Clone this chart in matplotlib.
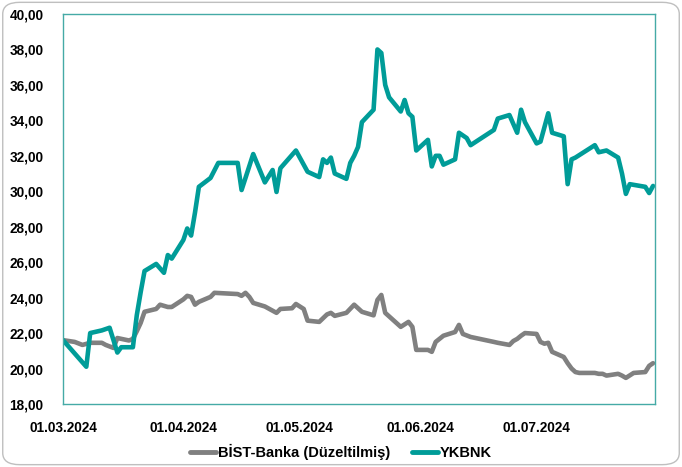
import matplotlib
matplotlib.use("Agg")
import matplotlib.pyplot as plt
import matplotlib.dates as mdates
from matplotlib.patches import FancyBboxPatch
from matplotlib.ticker import FuncFormatter
import pandas as pd

# ---------------- data ----------------
ykb_dates = ["2024-03-01","2024-03-07","2024-03-08","2024-03-11","2024-03-13","2024-03-15","2024-03-16",
             "2024-03-19","2024-03-20","2024-03-21","2024-03-22","2024-03-25","2024-03-27","2024-03-28",
             "2024-03-29","2024-04-01","2024-04-02","2024-04-03","2024-04-04","2024-04-05","2024-04-08",
             "2024-04-10","2024-04-15","2024-04-16","2024-04-19","2024-04-22","2024-04-24","2024-04-25",
             "2024-04-26","2024-04-30","2024-05-03","2024-05-06","2024-05-07","2024-05-08","2024-05-09",
             "2024-05-10","2024-05-13","2024-05-14","2024-05-15","2024-05-16","2024-05-17","2024-05-20",
             "2024-05-21","2024-05-22","2024-05-23","2024-05-24","2024-05-27","2024-05-28","2024-05-29",
             "2024-05-30","2024-05-31","2024-06-03","2024-06-04","2024-06-05","2024-06-06","2024-06-07",
             "2024-06-10","2024-06-11","2024-06-12","2024-06-13","2024-06-14","2024-06-20","2024-06-21",
             "2024-06-24","2024-06-26","2024-06-27","2024-06-28","2024-07-01","2024-07-02","2024-07-04",
             "2024-07-05","2024-07-08","2024-07-09","2024-07-10","2024-07-11","2024-07-16","2024-07-17",
             "2024-07-19","2024-07-22","2024-07-23","2024-07-24","2024-07-25","2024-07-29","2024-07-30",
             "2024-07-31"]
ykb_values = [21.60, 20.10, 22.00, 22.15, 22.30, 20.90, 21.20,
              21.20, 23.00, 24.30, 25.50, 25.90, 25.40, 26.40,
              26.20, 27.25, 27.90, 27.50, 28.80, 30.25, 30.75,
              31.60, 31.60, 30.07, 32.10, 30.50, 31.20, 29.96,
              31.30, 32.30, 31.10, 30.80, 31.80, 31.60, 31.90,
              31.00, 30.70, 31.60, 32.00, 32.50, 33.90, 34.60,
              38.00, 37.80, 36.00, 35.30, 34.50, 35.15, 34.40,
              34.20, 32.30, 32.90, 31.40, 32.00, 32.00, 31.50,
              31.80, 33.30, 33.15, 33.00, 32.60, 33.46, 34.10,
              34.30, 33.30, 34.60, 33.90, 32.70, 32.80, 34.40,
              33.30, 33.10, 30.40, 31.80, 31.90, 32.60, 32.20,
              32.30, 31.90, 31.00, 29.85, 30.40, 30.25, 29.90,
              30.30]

bist_dates = ["2024-03-01","2024-03-04","2024-03-06","2024-03-08","2024-03-11","2024-03-12","2024-03-14",
              "2024-03-15","2024-03-18","2024-03-19","2024-03-20","2024-03-21","2024-03-22","2024-03-25",
              "2024-03-26","2024-03-28","2024-03-29","2024-04-01","2024-04-02","2024-04-03","2024-04-04",
              "2024-04-05","2024-04-08","2024-04-09","2024-04-15","2024-04-16","2024-04-17","2024-04-18",
              "2024-04-19","2024-04-22","2024-04-25","2024-04-26","2024-04-29","2024-04-30","2024-05-02",
              "2024-05-03","2024-05-06","2024-05-08","2024-05-09","2024-05-10","2024-05-13","2024-05-15",
              "2024-05-16","2024-05-17","2024-05-20","2024-05-21","2024-05-22","2024-05-23","2024-05-27",
              "2024-05-29","2024-05-30","2024-05-31","2024-06-03","2024-06-04","2024-06-05","2024-06-07",
              "2024-06-10","2024-06-11","2024-06-12","2024-06-14","2024-06-20","2024-06-21","2024-06-24",
              "2024-06-25","2024-06-26","2024-06-27","2024-06-28","2024-07-01","2024-07-02","2024-07-03",
              "2024-07-04","2024-07-05","2024-07-08","2024-07-09","2024-07-10","2024-07-11","2024-07-12",
              "2024-07-16","2024-07-17","2024-07-18","2024-07-19","2024-07-22","2024-07-23","2024-07-24",
              "2024-07-26","2024-07-29","2024-07-30","2024-07-31"]
bist_values = [21.60, 21.50, 21.33, 21.45, 21.45, 21.33, 21.16,
               21.72, 21.58, 21.67, 22.10, 22.57, 23.20, 23.36,
               23.60, 23.47, 23.47, 23.90, 24.10, 24.04, 23.60,
               23.76, 24.04, 24.27, 24.20, 24.10, 24.27, 24.04,
               23.70, 23.50, 23.14, 23.36, 23.40, 23.64, 23.36,
               22.70, 22.63, 23.05, 23.14, 22.97, 23.14, 23.60,
               23.40, 23.20, 23.00, 23.87, 24.15, 23.14, 22.35,
               22.63, 22.35, 21.05, 21.05, 20.94, 21.50, 21.85,
               22.06, 22.46, 21.95, 21.78, 21.50, 21.45, 21.33,
               21.55, 21.67, 21.85, 22.00, 21.95, 21.50, 21.40,
               21.45, 20.94, 20.65, 20.30, 20.00, 19.80, 19.75,
               19.75, 19.70, 19.70, 19.60, 19.70, 19.60, 19.47,
               19.75, 19.80, 20.15, 20.30]

series_names = ["BİST-Banka (Düzeltilmiş)", "YKBNK"]
x_tick_labels = ["01.03.2024", "01.04.2024", "01.05.2024", "01.06.2024", "01.07.2024"]
y_ticks = [18, 20, 22, 24, 26, 28, 30, 32, 34, 36, 38, 40]

# ---------------- style ----------------
plt.rcParams['font.family'] = ['Liberation Sans', 'DejaVu Sans']
TEAL = '#009C98'
GREY = '#808080'
FRAME = '#45AAA6'

fig = plt.figure(figsize=(6.82, 4.67), dpi=100)
border = FancyBboxPatch((0.004, 0.005), 0.992, 0.99, boxstyle="round,pad=0,rounding_size=0.025",
                        transform=fig.transFigure, facecolor='white', edgecolor='#BFBFBF',
                        linewidth=1.0, zorder=-10)
fig.patches.append(border)

ax = fig.add_axes([0.0924, 0.135, 0.868, 0.835])
ax.set_facecolor('white')

ax.plot(pd.to_datetime(bist_dates), bist_values, color=GREY, lw=3.3,
        solid_joinstyle='round', solid_capstyle='round', label=series_names[0])
ax.plot(pd.to_datetime(ykb_dates), ykb_values, color=TEAL, lw=3.3,
        solid_joinstyle='round', solid_capstyle='round', label=series_names[1])

ax.set_ylim(18, 40)
ax.set_yticks(y_ticks)
ax.yaxis.set_major_formatter(FuncFormatter(lambda v, p: f"{v:.2f}".replace('.', ',')))
ax.set_xlim(pd.Timestamp("2024-03-01"), pd.Timestamp("2024-07-31 12:00"))
ax.set_xticks(pd.to_datetime(["2024-03-01", "2024-04-01", "2024-05-01", "2024-06-01", "2024-07-01"]))
ax.set_xticklabels(x_tick_labels)

for s in ax.spines.values():
    s.set_color(FRAME)
    s.set_linewidth(1.0)

ax.tick_params(axis='both', length=0, labelsize=9.8, colors='black')
ax.tick_params(axis='y', pad=14)
ax.tick_params(axis='x', pad=12)
for lab in ax.get_xticklabels() + ax.get_yticklabels():
    lab.set_fontweight('bold')

leg = fig.legend(loc='center', bbox_to_anchor=(0.5, 0.033), ncol=2, frameon=False,
                 prop={'weight': 'bold', 'size': 10.5}, handlelength=1.8, handletextpad=0.1,
                 columnspacing=1.5)
for h in leg.get_lines():
    h.set_linewidth(3.5)

fig.savefig("out.png", dpi=100)
